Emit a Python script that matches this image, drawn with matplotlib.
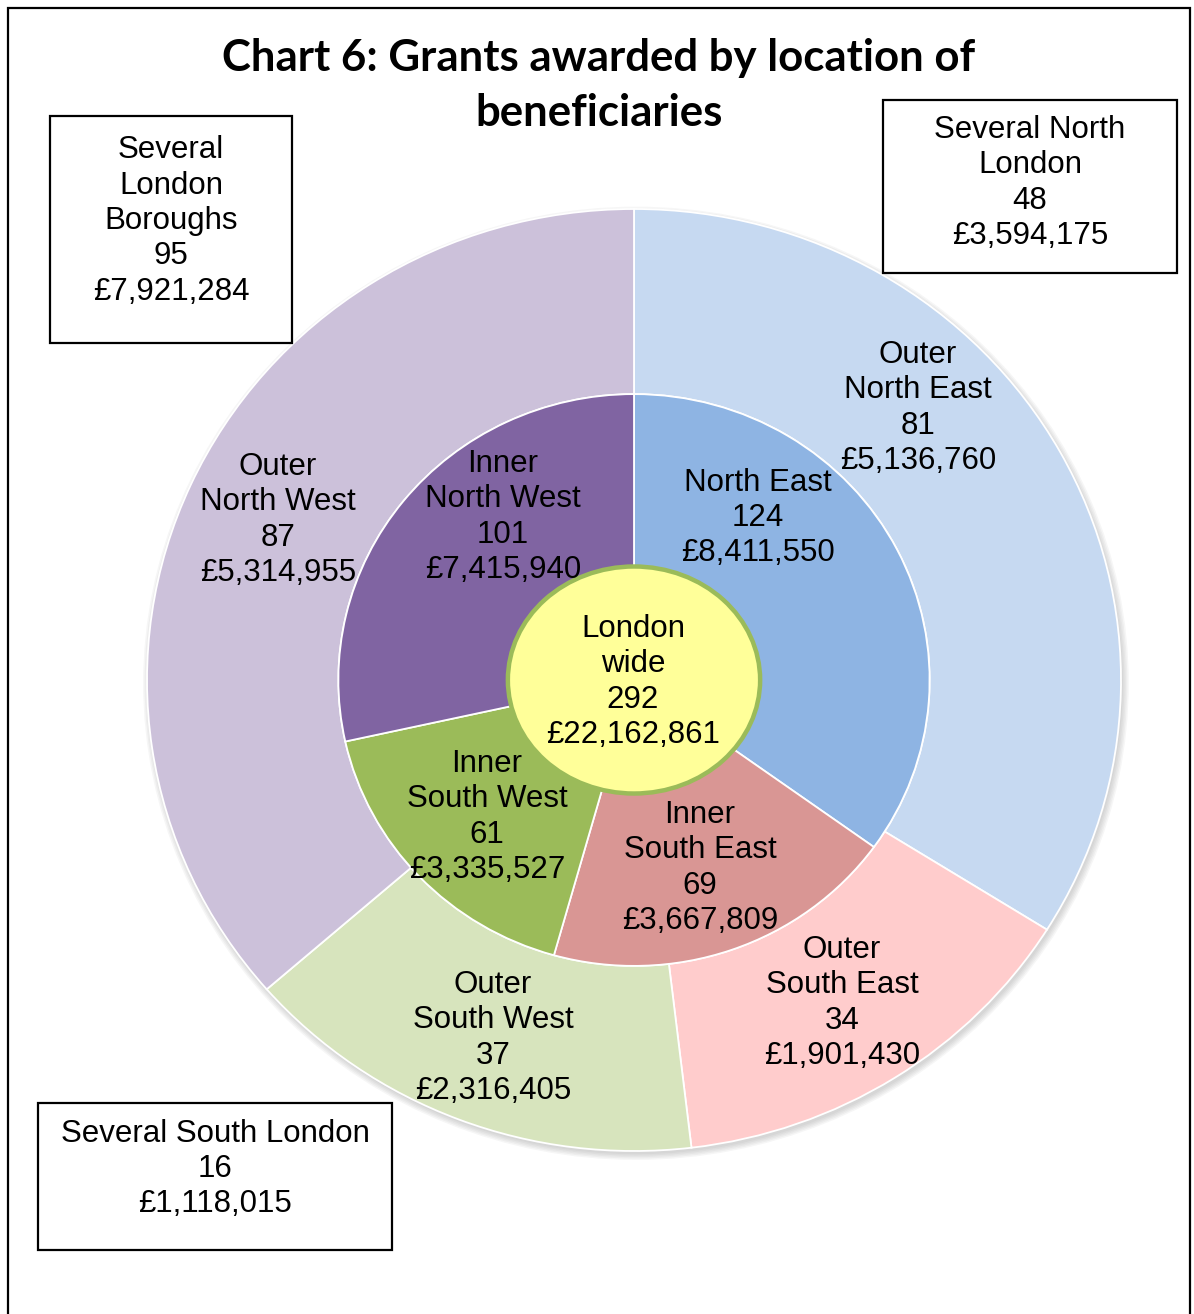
import matplotlib.pyplot as plt
from matplotlib.patches import Ellipse, Rectangle

# grants by location of beneficiaries
outer_names = ["Outer\nNorth East", "Outer\nSouth East", "Outer\nSouth West", "Outer\nNorth West"]
outer_counts = [81, 34, 37, 87]
outer_amounts = [5136760, 1901430, 2316405, 5314955]

inner_names = ["North East", "Inner\nSouth East", "Inner\nSouth West", "Inner\nNorth West"]
inner_counts = [124, 69, 61, 101]
inner_amounts = [8411550, 3667809, 3335527, 7415940]

centre_name = "London\nwide"
centre_count = 292
centre_amount = 22162861

several_names = ["Several\nLondon\nBoroughs", "Several North\nLondon", "Several South London"]
several_counts = [95, 48, 16]
several_amounts = [7921284, 3594175, 1118015]

outer_colors = ["#C6D9F1", "#FFCCCC", "#D7E4BD", "#CCC1DA"]
inner_colors = ["#8EB4E3", "#D99694", "#9BBB59", "#8064A2"]

W, H = 1194, 1314
cx, cy = 634, 680          # pie centre in pixels
rx, ry = 487, 471          # outer radius, horizontal / vertical
pad = 1.05
inner_r = 0.607

plt.rcParams["font.family"] = ["Liberation Sans", "DejaVu Sans"]
label_size = 22.5
spacing = 1.23

fig = plt.figure(figsize=(W / 100, H / 100), dpi=100)

ax = fig.add_axes([(cx - rx * pad) / W, (H - cy - ry * pad) / H,
                   2 * rx * pad / W, 2 * ry * pad / H])

# soft drop shadow under the outer ring
for i in range(5):
    ax.add_patch(Ellipse((0.004, -0.007), 2 * (1.0 + 0.003 * i), 2 * (1.0 + 0.003 * i),
                         facecolor="#808080", edgecolor="none", alpha=0.07, zorder=0))

ax.pie(outer_counts, radius=1.0, startangle=90, counterclock=False, colors=outer_colors,
       wedgeprops=dict(width=1.0 - inner_r, edgecolor="white", linewidth=1.3))
ax.pie(inner_counts, radius=inner_r, startangle=90, counterclock=False, colors=inner_colors,
       wedgeprops=dict(edgecolor="white", linewidth=1.3))
ax.add_patch(Ellipse((0, 0), 2 * 0.259, 2 * 0.241, facecolor="#FFFF99",
                     edgecolor="#9BBB59", linewidth=3.2, zorder=5))
ax.set_aspect("auto")
ax.set_xlim(-pad, pad)
ax.set_ylim(-pad, pad)
ax.axis("off")

# overlay in pixel coordinates for title, labels and boxes
top = fig.add_axes([0, 0, 1, 1], zorder=3)
top.set_xlim(0, W)
top.set_ylim(H, 0)
top.axis("off")
top.patch.set_visible(False)

top.text(599, 58, "Chart 6: Grants awarded by location of", family="Lato", weight="bold",
         fontsize=31.5, ha="center", va="center")
top.text(599, 113, "beneficiaries", family="Lato", weight="bold",
         fontsize=31.5, ha="center", va="center")


def label(x, y, name, count, amount):
    top.text(x, y + 2, f"{name}\n{count}\n£{amount:,}", fontsize=label_size,
             ha="center", va="center", linespacing=spacing, multialignment="center")


outer_pos = [(918, 406), (842, 1001), (493, 1036), (278, 518)]
inner_pos = [(758, 516), (700, 866), (487, 815), (503, 515)]
for (x, y), n, c, a in zip(outer_pos, outer_names, outer_counts, outer_amounts):
    label(x, y, n, c, a)
for (x, y), n, c, a in zip(inner_pos, inner_names, inner_counts, inner_amounts):
    label(x, y, n, c, a)
label(633, 680, centre_name, centre_count, centre_amount)

boxes = [(50, 116, 292, 343), (883, 100, 1177, 273), (38, 1103, 392, 1250)]
box_text = [(171, 219), (1030, 181), (215, 1167)]
for (x0, y0, x1, y1), (tx, ty), n, c, a in zip(boxes, box_text, several_names,
                                                several_counts, several_amounts):
    top.add_patch(Rectangle((x0, y0), x1 - x0, y1 - y0, facecolor="white",
                            edgecolor="black", linewidth=1.6))
    label(tx, ty, n, c, a)

# frame round the chart
top.plot([8, 8, 1190, 1190], [H + 5, 8, 8, H + 5], color="black", linewidth=1.6,
         solid_joinstyle="miter")

fig.savefig("out.png", dpi=100)
